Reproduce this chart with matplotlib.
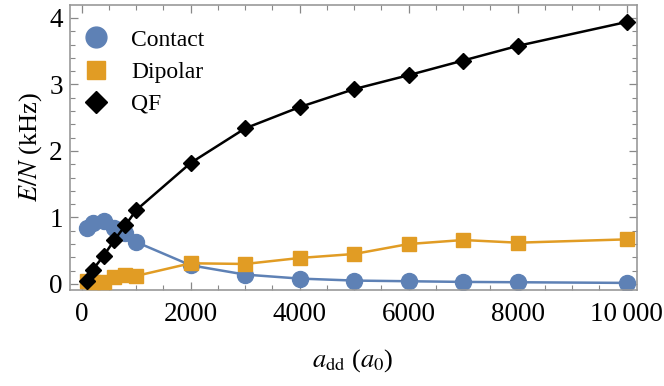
import matplotlib.pyplot as plt
from matplotlib.lines import Line2D
from matplotlib.ticker import MultipleLocator

plt.rcParams['font.family'] = ['Liberation Serif', 'DejaVu Serif']
plt.rcParams['mathtext.fontset'] = 'stix'

a_dd = [100, 200, 400, 600, 800, 1000, 2000, 3000, 4000, 5000, 6000, 7000, 8000, 10000]
contact = [0.84, 0.91, 0.94, 0.84, 0.77, 0.63, 0.28, 0.14, 0.08, 0.05, 0.04, 0.03, 0.025, 0.015]
dipolar = [0.04, 0.03, 0.03, 0.10, 0.14, 0.12, 0.31, 0.30, 0.39, 0.45, 0.60, 0.66, 0.62, 0.67]
qf = [0.05, 0.21, 0.42, 0.66, 0.88, 1.11, 1.82, 2.34, 2.66, 2.93, 3.14, 3.36, 3.58, 3.94]

blue = "#5E81B5"
orange = "#E19C24"

fig = plt.figure(figsize=(6.64, 3.86), dpi=100)
ax = fig.add_axes([0.105, 0.249, 0.854, 0.738])

ax.plot(a_dd, contact, color=blue, lw=1.8, marker="o", ms=11.5, zorder=2)
ax.plot(a_dd, dipolar, color=orange, lw=1.8, marker="s", ms=10, zorder=3)
ax.plot(a_dd, qf, color="black", lw=1.8, marker="D", ms=8.5, zorder=4)

ax.set_xlim(-220, 10185)
ax.set_ylim(-0.09, 4.195)
ax.xaxis.set_major_locator(MultipleLocator(2000))
ax.xaxis.set_minor_locator(MultipleLocator(500))
ax.yaxis.set_major_locator(MultipleLocator(1))
ax.yaxis.set_minor_locator(MultipleLocator(0.2))
ax.set_xticks([0, 2000, 4000, 6000, 8000, 10000])
ax.set_xticklabels(["0", "2000", "4000", "6000", "8000", "10\u2009000"])

ax.tick_params(which="both", direction="in", top=True, right=True, color="#888888", labelsize=19.5)
ax.tick_params(which="major", length=6, width=0.9)
ax.tick_params(which="minor", length=3.5, width=0.8)
ax.tick_params(axis="x", pad=9)
ax.tick_params(axis="y", pad=5)
for s in ax.spines.values():
    s.set_color("#999999")
    s.set_linewidth(1.2)

ax.set_xlabel("$a_{\\rm dd}$ ($a_0$)", fontsize=19, labelpad=14)
ax.set_ylabel("$E/N$ (kHz)", fontsize=19, labelpad=4)

handles = [
    Line2D([], [], ls="none", marker="o", ms=15, color=blue),
    Line2D([], [], ls="none", marker="s", ms=13.5, color=orange),
    Line2D([], [], ls="none", marker="D", ms=11.5, color="black"),
]
ax.legend(handles, ["Contact", "Dipolar", "QF"], loc="upper left", frameon=False, fontsize=17,
          handlelength=1.0, handletextpad=1.0, labelspacing=0.45,
          bbox_to_anchor=(-0.012, 0.99), borderaxespad=0.5)

fig.savefig("out.png", dpi=100)
